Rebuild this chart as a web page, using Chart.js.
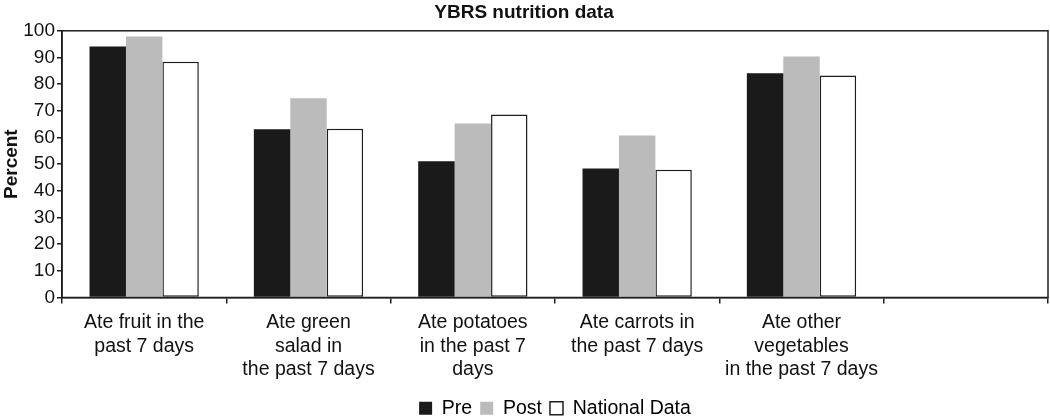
<!DOCTYPE html>
<html lang="en">
<head>
<meta charset="UTF-8" />
<title>YBRS nutrition data</title>
<script src="https://cdn.jsdelivr.net/npm/chart.js"></script>
<style>
    html, body { margin: 0; padding: 0; background: #fff; }
    #wrap { width: 1050px; height: 418px; }
</style>
</head>
<body>
<div id="wrap"><canvas id="chart"></canvas></div>
<script>
    // Categories (last one is empty in the original)
    const categories = [
        ["Ate fruit in the", "past 7 days"],
        ["Ate green", "salad in", "the past 7 days"],
        ["Ate potatoes", "in the past 7", "days"],
        ["Ate carrots in", "the past 7 days"],
        ["Ate other", "vegetables", "in the past 7 days"],
        ""
    ];
    const preValues = [94.1, 63.1, 51.1, 48.4, 84.1, null];
    const postValues = [97.9, 74.7, 65.2, 60.7, 90.4, null];
    const nationalValues = [88.4, 63.3, 68.6, 47.9, 83.2, null];
    const yTicks = { min: 0, max: 100, step: 10 };

    const FONT = "'Liberation Sans', Arial, sans-serif";
    const INK = "#1e1e1e";

    // draws the frame round the plot area
    const frame = {
        id: "frame",
        afterDraw(chart) {
            const a = chart.chartArea;
            const ctx = chart.ctx;
            ctx.save();
            ctx.strokeStyle = INK;
            ctx.lineWidth = 1.5;
            ctx.strokeRect(a.left, a.top, a.right - a.left, a.bottom - a.top);
            ctx.restore();
        }
    };

    new Chart(document.getElementById("chart"), {
        type: "bar",
        data: {
            labels: categories,
            datasets: [
                { label: "Pre", data: preValues, backgroundColor: "#1a1a1a", borderWidth: 0 },
                { label: "Post", data: postValues, backgroundColor: "#bbbbbb", borderWidth: 0 },
                { label: "National Data", data: nationalValues, backgroundColor: "#ffffff",
                  borderColor: INK, borderWidth: 1.5, borderSkipped: false }
            ]
        },
        options: {
            responsive: true,
            maintainAspectRatio: false,
            animation: false,
            devicePixelRatio: 1,
            layout: { padding: { right: 2, left: 0, top: 0, bottom: -10 } },
            datasets: { bar: { barPercentage: 1, categoryPercentage: 0.665 } },
            plugins: {
                title: {
                    display: true,
                    text: "YBRS nutrition data",
                    color: "#111",
                    font: { family: FONT, size: 19, weight: "bold" },
                    padding: { top: 1, bottom: 7 }
                },
                legend: {
                    position: "bottom",
                    fullSize: false,
                    labels: {
                        color: "#111",
                        font: { family: FONT, size: 19.5 },
                        boxWidth: 13,
                        boxHeight: 13,
                        padding: 8,
                        generateLabels(chart) {
                            return chart.data.datasets.map((d, i) => ({
                                text: d.label,
                                fillStyle: d.backgroundColor,
                                strokeStyle: i === 2 ? INK : d.backgroundColor,
                                lineWidth: i === 2 ? 1.5 : 0,
                                datasetIndex: i,
                                hidden: false
                            }));
                        }
                    }
                },
                tooltip: { enabled: false }
            },
            scales: {
                x: {
                    grid: { display: true, drawOnChartArea: false, tickLength: 6, color: INK, lineWidth: 1.5, offset: true },
                    border: { color: INK, width: 1.5 },
                    ticks: {
                        color: "#111",
                        maxRotation: 0,
                        autoSkip: false,
                        padding: 7,
                        font: { family: FONT, size: 19.5, lineHeight: 1.22 }
                    },
                    afterFit(scale) { scale.height = 93; }
                },
                y: {
                    min: yTicks.min,
                    max: yTicks.max,
                    grid: { display: true, drawOnChartArea: false, tickLength: 5, color: INK, lineWidth: 1.5 },
                    border: { color: INK, width: 1.5 },
                    ticks: {
                        stepSize: yTicks.step,
                        color: "#111",
                        padding: 2,
                        font: { family: FONT, size: 19 }
                    },
                    title: {
                        display: true,
                        text: "Percent",
                        color: "#111",
                        font: { family: FONT, size: 19, weight: "bold" },
                        padding: { top: 0, bottom: 1 }
                    },
                    afterFit(scale) { scale.width = 62; }
                }
            }
        },
        plugins: [frame]
    });
</script>
</body>
</html>
